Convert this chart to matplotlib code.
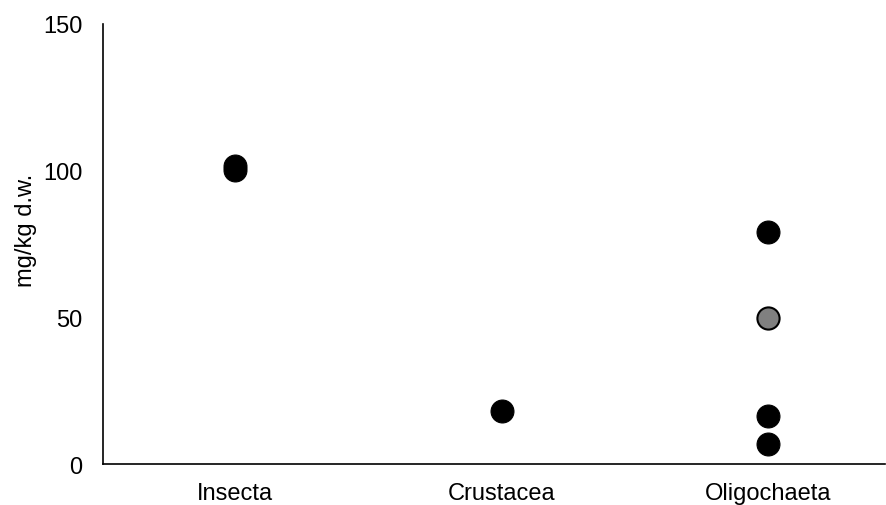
import matplotlib
matplotlib.use("Agg")
import matplotlib.pyplot as plt

plt.rcParams['font.family'] = ['Liberation Sans', 'DejaVu Sans']

# categories and measured values (mg/kg d.w.)
categories = ['Insecta', 'Crustacea', 'Oligochaeta']
black_x = [0, 0, 1, 2, 2, 2]
black_y = [100.2, 101.6, 18.0, 79.0, 16.4, 6.8]
grey_x = [2]
grey_y = [49.8]

fig = plt.figure(figsize=(8.86, 5.06), dpi=100)
ax = fig.add_axes([0.1163, 0.081, 0.883, 0.8696])

ax.scatter(black_x, black_y, s=272, c='black', edgecolors='black', linewidths=0.8, zorder=3)
ax.scatter(grey_x, grey_y, s=255, c='#808080', edgecolors='black', linewidths=1.5, zorder=3)

ax.set_xlim(-0.495, 2.44)
ax.set_ylim(0, 150)
ax.set_yticks([0, 50, 100, 150])
ax.set_xticks(range(len(categories)))
ax.set_xticklabels(categories)

ax.spines['top'].set_visible(False)
ax.spines['right'].set_visible(False)
ax.spines['left'].set_linewidth(1.2)
ax.spines['bottom'].set_linewidth(1.2)
ax.tick_params(axis='y', length=0, pad=15, labelsize=17)
ax.tick_params(axis='x', length=0, pad=13, labelsize=17)
ax.set_ylabel('mg/kg d.w.', fontsize=17)
ax.yaxis.set_label_coords(-0.084, 0.534)

fig.savefig('out.png', dpi=100)
